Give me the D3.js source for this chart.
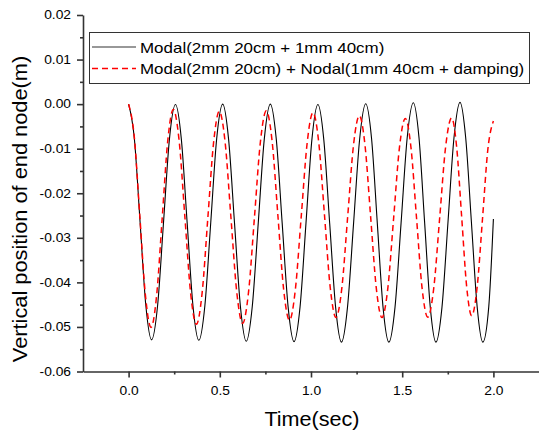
<!DOCTYPE html>
<html>
<head>
<meta charset="utf-8">
<script src="https://cdn.jsdelivr.net/npm/d3@7"></script>
<style>
  body { margin: 0; background: #fff; }
  text { font-family: "Liberation Sans", Arial, sans-serif; fill: #000; }
</style>
</head>
<body>
<div id="chart"></div>
<script>
// Datos (tiempo en s, posición en m)
const blackT = [0, 0.0315, 0.063, 0.0945, 0.126, 0.159, 0.1915, 0.224, 0.257, 0.289, 0.321, 0.353, 0.385, 0.418, 0.4505, 0.483,
  0.516, 0.548, 0.5805, 0.613, 0.645, 0.678, 0.711, 0.744, 0.777, 0.8095, 0.842, 0.8745, 0.907, 0.940, 0.9725, 1.005,
  1.038, 1.070, 1.1025, 1.135, 1.167, 1.200, 1.2335, 1.267, 1.300, 1.332, 1.3635, 1.395, 1.427, 1.4605, 1.494, 1.5275,
  1.561, 1.592, 1.623, 1.654, 1.685, 1.718, 1.751, 1.784, 1.817, 1.848, 1.8795, 1.911, 1.942, 1.9745, 2.0];
const blackY = [0, -0.0077, -0.0265, -0.0452, -0.0529, -0.0452, -0.0265, -0.0078, -0.0001, -0.0078, -0.0266, -0.0453, -0.0530, -0.0453, -0.0265, -0.0077,
  0.0000, -0.0078, -0.0266, -0.0454, -0.0532, -0.0454, -0.0266, -0.0078, 0.0000, -0.0078, -0.0267, -0.0455, -0.0533, -0.0455, -0.0267, -0.0079,
  -0.0001, -0.0079, -0.0268, -0.0456, -0.0534, -0.0456, -0.0267, -0.0077, 0.0001, -0.0077, -0.0267, -0.0456, -0.0534, -0.0456, -0.0266, -0.0075,
  0.0003, -0.0075, -0.0266, -0.0456, -0.0534, -0.0456, -0.0265, -0.0075, 0.0004, -0.0075, -0.0265, -0.0455, -0.0534, -0.0455, -0.0258];

const redT = [0, 0.031, 0.0615, 0.092, 0.123, 0.1535, 0.184, 0.2145, 0.245, 0.277, 0.3085, 0.340, 0.372, 0.403, 0.4345, 0.466,
  0.497, 0.529, 0.561, 0.593, 0.625, 0.6575, 0.690, 0.7225, 0.755, 0.787, 0.8185, 0.850, 0.882, 0.914, 0.9465, 0.979,
  1.011, 1.0425, 1.074, 1.1055, 1.137, 1.169, 1.201, 1.233, 1.265, 1.296, 1.327, 1.358, 1.389, 1.421, 1.453, 1.485,
  1.517, 1.548, 1.5785, 1.609, 1.640, 1.673, 1.7055, 1.738, 1.771, 1.7985, 1.826, 1.8535, 1.881, 1.911, 1.9405, 1.970, 2.0];
const redY = [0, -0.0073, -0.0251, -0.0428, -0.0501, -0.0430, -0.0257, -0.0083, -0.0012, -0.0082, -0.0253, -0.0424, -0.0494, -0.0424, -0.0255, -0.0086,
  -0.0016, -0.0085, -0.0254, -0.0422, -0.0492, -0.0422, -0.0254, -0.0085, -0.0015, -0.0084, -0.0250, -0.0416, -0.0485, -0.0417, -0.0252, -0.0087,
  -0.0019, -0.0086, -0.0249, -0.0412, -0.0479, -0.0413, -0.0253, -0.0092, -0.0026, -0.0092, -0.0253, -0.0413, -0.0479, -0.0414, -0.0256, -0.0097,
  -0.0032, -0.0097, -0.0255, -0.0413, -0.0478, -0.0413, -0.0255, -0.0096, -0.0031, -0.0096, -0.0253, -0.0410, -0.0475, -0.0410, -0.0256, -0.0100, -0.0038];

const seriesNames = ["Modal(2mm 20cm + 1mm 40cm)", "Modal(2mm 20cm) + Nodal(1mm 40cm + damping)"];
const xTicks = [0, 0.5, 1.0, 1.5, 2.0];
const xMinor = [0.25, 0.75, 1.25, 1.75];
const yTicks = [0.02, 0.01, 0, -0.01, -0.02, -0.03, -0.04, -0.05, -0.06];
const yMinor = [0.015, 0.005, -0.005, -0.015, -0.025, -0.035, -0.045, -0.055];

const width = 539, height = 437;
const svg = d3.select("#chart").append("svg")
  .attr("width", width).attr("height", height);

// Escalas
const x = d3.scaleLinear().domain([-0.25, 2.25]).range([83, 539]);
const y = d3.scaleLinear().domain([-0.06, 0.02]).range([371.5, 15]);

// estira el texto en horizontal (la fuente original es más ancha)
function stretch(sel, sx) {
  sel.each(function() {
    const t = d3.select(this);
    const x0 = +t.attr("x") || 0;
    t.attr("x", x0 / sx).attr("transform", `scale(${sx},1)`);
  });
}

// Ejes
const axisColor = "#333";
const gx = svg.append("g").attr("transform", `translate(0,${y(-0.06)})`)
  .call(d3.axisBottom(x).tickValues(xTicks).tickSize(6).tickSizeOuter(0).tickPadding(9).tickFormat(d => d.toFixed(1)));
svg.append("g").attr("transform", `translate(0,${y(-0.06)})`)
  .call(d3.axisBottom(x).tickValues(xMinor).tickSize(3).tickSizeOuter(0).tickFormat(""))
  .select(".domain").remove();

const gy = svg.append("g").attr("transform", `translate(${x(-0.25)},0)`)
  .call(d3.axisLeft(y).tickValues(yTicks).tickSize(6).tickSizeOuter(0).tickPadding(6).tickFormat(d => d.toFixed(2)));
svg.append("g").attr("transform", `translate(${x(-0.25)},0)`)
  .call(d3.axisLeft(y).tickValues(yMinor).tickSize(3).tickSizeOuter(0).tickFormat(""))
  .select(".domain").remove();

svg.selectAll(".domain, .tick line").attr("stroke", axisColor).attr("stroke-width", 1.6);
svg.selectAll(".tick text").attr("font-size", 12).attr("font-family", "Liberation Sans, Arial, sans-serif").attr("fill", "#000");
stretch(gx.selectAll(".tick text"), 1.15);
stretch(gy.selectAll(".tick text"), 1.15);

// Curvas
const line = d3.line().x(d => x(d[0])).y(d => y(d[1])).curve(d3.curveMonotoneX);
const blackData = blackT.map((t, i) => [t, blackY[i]]);
const redData = redT.map((t, i) => [t, redY[i]]);

svg.append("path").datum(blackData)
  .attr("d", line).attr("fill", "none").attr("stroke", "#000").attr("stroke-width", 1.1);
svg.append("path").datum(redData)
  .attr("d", line).attr("fill", "none").attr("stroke", "#ff0000").attr("stroke-width", 1.5)
  .attr("stroke-dasharray", "6,4");

// Leyenda
const leg = svg.append("g");
leg.append("rect").attr("x", 89.5).attr("y", 32.5).attr("width", 440).attr("height", 51)
  .attr("fill", "#fff").attr("stroke", "#333").attr("stroke-width", 1);
const legStyles = [{ c: "#333", w: 1.2, dash: null }, { c: "#ff0000", w: 1.5, dash: "6,4" }];
seriesNames.forEach((name, i) => {
  const ly = 47 + i * 21.5;
  leg.append("line").attr("x1", 92).attr("x2", 136).attr("y1", ly).attr("y2", ly)
    .attr("stroke", legStyles[i].c).attr("stroke-width", legStyles[i].w)
    .attr("stroke-dasharray", legStyles[i].dash);
  leg.append("text").attr("x", 140).attr("y", ly + 6).attr("font-size", 15).text(name)
    .call(stretch, 1.13);
});

// Títulos
svg.append("text").attr("x", 312).attr("y", 426).attr("font-size", 20)
  .attr("text-anchor", "middle").text("Time(sec)").call(stretch, 1.08);

svg.append("text")
  .attr("transform", "translate(27,209) rotate(-90) scale(1.09,1)")
  .attr("font-size", 20).attr("text-anchor", "middle")
  .text("Vertical position of end node(m)");
</script>
</body>
</html>
